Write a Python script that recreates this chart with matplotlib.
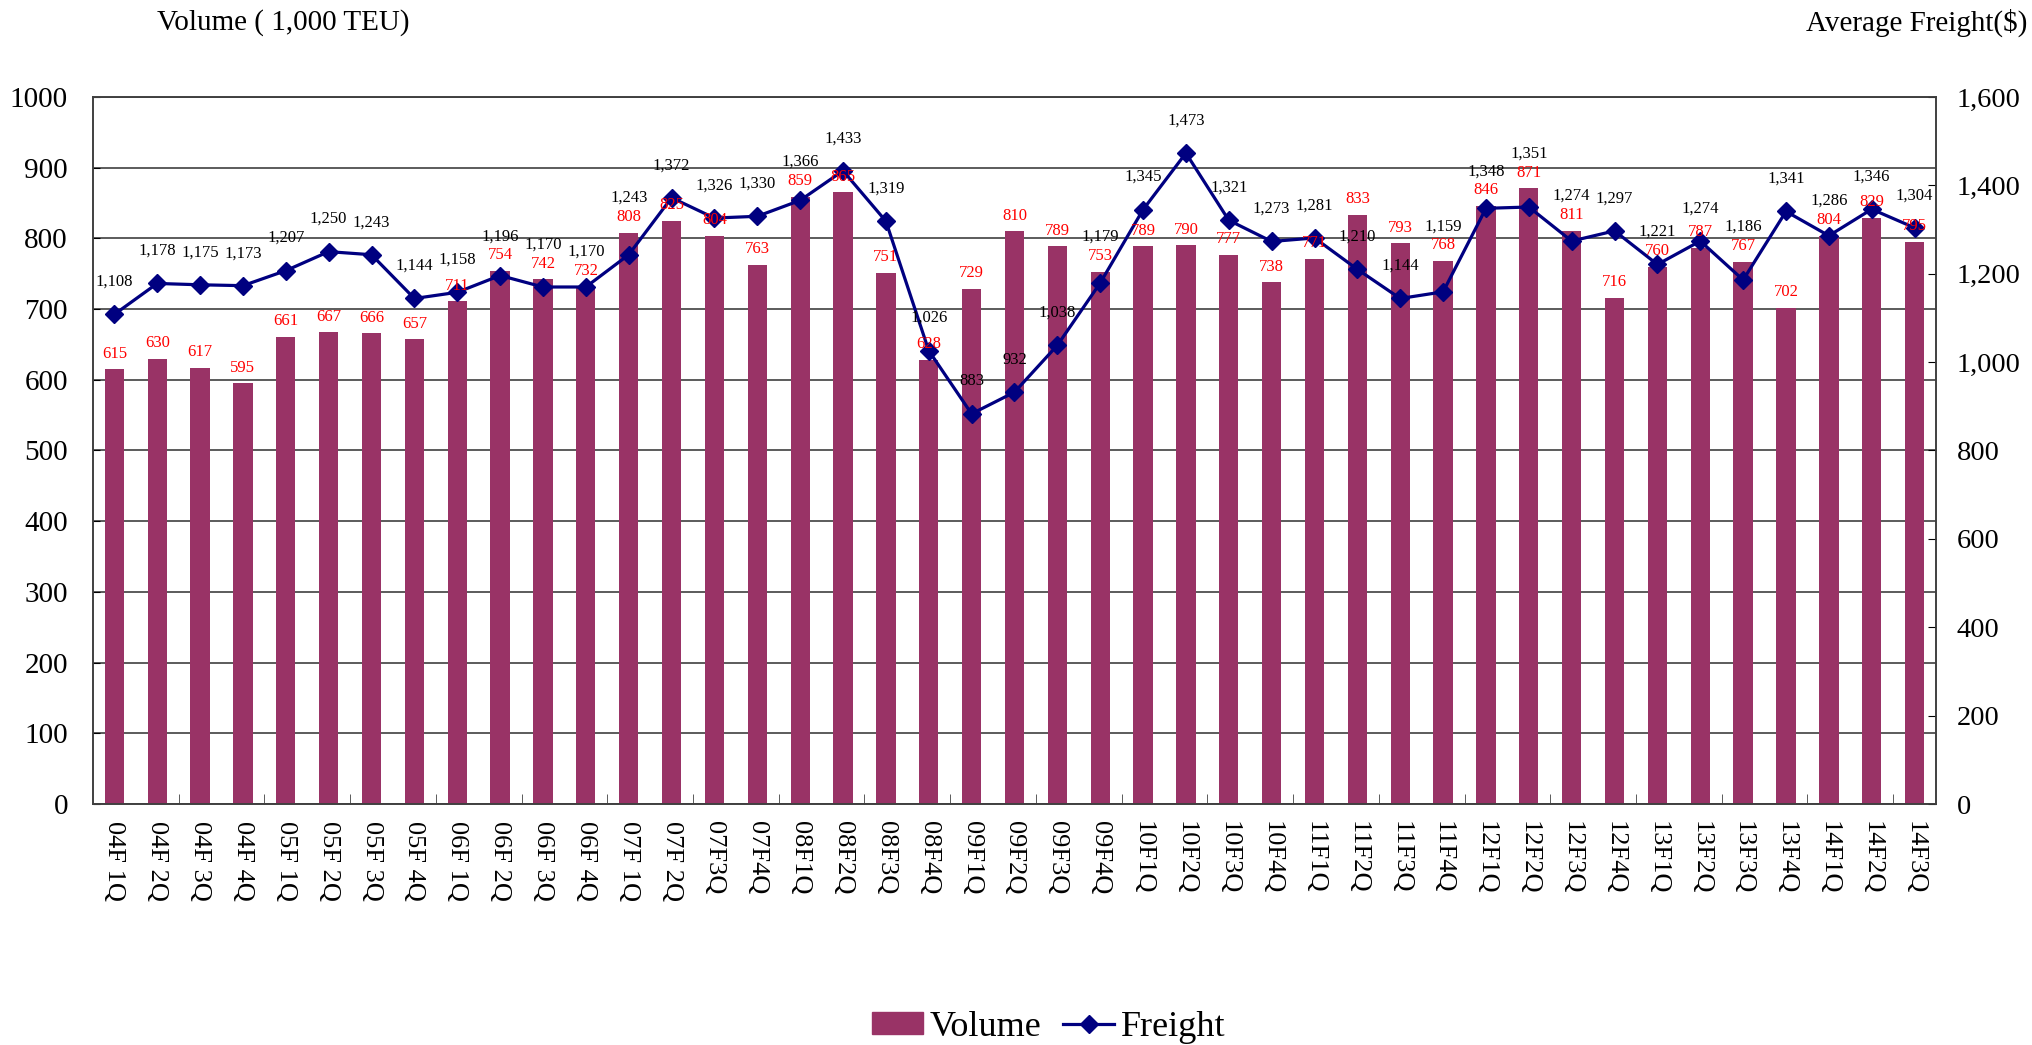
import numpy as np
import matplotlib
matplotlib.use("Agg")
import matplotlib.pyplot as plt
from matplotlib.lines import Line2D
from matplotlib.patches import Patch

plt.rcParams['font.family'] = ['Liberation Serif', 'DejaVu Serif']

categories = ["04F 1Q", "04F 2Q", "04F 3Q", "04F 4Q", "05F 1Q", "05F 2Q", "05F 3Q", "05F 4Q",
              "06F 1Q", "06F 2Q", "06F 3Q", "06F 4Q", "07F 1Q", "07F 2Q", "07F3Q", "07F4Q",
              "08F1Q", "08F2Q", "08F3Q", "08F4Q", "09F1Q", "09F2Q", "09F3Q", "09F4Q",
              "10F1Q", "10F2Q", "10F3Q", "10F4Q", "11F1Q", "11F2Q", "11F3Q", "11F4Q",
              "12F1Q", "12F2Q", "12F3Q", "12F4Q", "13F1Q", "13F2Q", "13F3Q", "13F4Q",
              "14F1Q", "14F2Q", "14F3Q"]
volume = [615, 630, 617, 595, 661, 667, 666, 657, 711, 754, 742, 732, 808, 825, 804, 763,
          859, 865, 751, 628, 729, 810, 789, 753, 789, 790, 777, 738, 771, 833, 793, 768,
          846, 871, 811, 716, 760, 787, 767, 702, 804, 829, 795]
freight = [1108, 1178, 1175, 1173, 1207, 1250, 1243, 1144, 1158, 1196, 1170, 1170, 1243, 1372,
           1326, 1330, 1366, 1433, 1319, 1026, 883, 932, 1038, 1179, 1345, 1473, 1321, 1273,
           1281, 1210, 1144, 1159, 1348, 1351, 1274, 1297, 1221, 1274, 1186, 1341, 1286, 1346, 1304]
left_ticks = list(range(0, 1001, 100))
right_ticks = list(range(0, 1601, 200))

BAR = '#993366'
LINE = '#000080'
LMAX, RMAX = 1000, 1600

fig = plt.figure(figsize=(20.33, 10.45), dpi=100)
ax = fig.add_axes([0.0457, 0.2306, 0.9066, 0.6766])
x = np.arange(len(categories))

ax.bar(x, volume, width=0.45, color=BAR, zorder=2)
ax.set_xlim(-0.5, len(categories) - 0.5)
ax.set_ylim(0, LMAX)
ax.set_yticks(left_ticks)
ax.set_yticklabels([str(v) for v in left_ticks], fontsize=21)
ax.grid(axis='y', color='#404040', lw=1.2, zorder=0)
ax.set_axisbelow(True)
ax.tick_params(axis='y', direction='in', length=5, pad=18)
ax.set_xticks(x)
ax.set_xticklabels(categories, rotation=270, fontsize=19, va='top', ha='center')
ax.tick_params(axis='x', length=0, pad=12)
ax.set_xticks(np.arange(1.5, len(categories) - 1, 2), minor=True)
ax.tick_params(axis='x', which='minor', direction='in', length=7, color='#404040')
for s in ax.spines.values():
    s.set_color('#404040')
    s.set_linewidth(1.2)

ax2 = ax.twinx()
ax2.set_ylim(0, RMAX)
ax2.set_yticks(right_ticks)
ax2.set_yticklabels([f"{v:,}" for v in right_ticks], fontsize=20.5)
ax2.tick_params(axis='y', direction='in', length=6, pad=15)
ax2.plot(x, freight, color=LINE, lw=2.3, marker='D', ms=9, zorder=3)
for s in ax2.spines.values():
    s.set_color('#404040')
    s.set_linewidth(1.2)

# red volume labels (drawn on top of everything)
for xi, v in zip(x, volume):
    ax2.text(xi, (v + 22) * RMAX / LMAX, str(v), ha='center', va='center',
             color='red', fontsize=12, zorder=6)

# freight labels: above marker, bumped above red label when they would collide
for xi, v, f in zip(x, volume, freight):
    fy = f * LMAX / RMAX + 46
    rc = v + 22
    if abs(fy - rc) < 27:
        fy = rc + 27
    ax2.text(xi, fy * RMAX / LMAX, f"{f:,}", ha='center', va='center',
             color='black', fontsize=12, zorder=6)

fig.text(0.077, 0.978, "Volume ( 1,000 TEU)", fontsize=21, ha='left', va='center')
fig.text(0.997, 0.978, "Average Freight($)", fontsize=21, ha='right', va='center')

handles = [Patch(facecolor=BAR, edgecolor=BAR),
           Line2D([0], [0], color=LINE, lw=2.3, marker='D', ms=9)]
fig.legend(handles, ["Volume", "Freight"], loc='center', bbox_to_anchor=(0.516, 0.017),
           ncol=2, frameon=False, fontsize=26, handlelength=1.4, handleheight=0.55,
           handletextpad=0.2, columnspacing=0.6)

fig.savefig("out.png", dpi=100)
